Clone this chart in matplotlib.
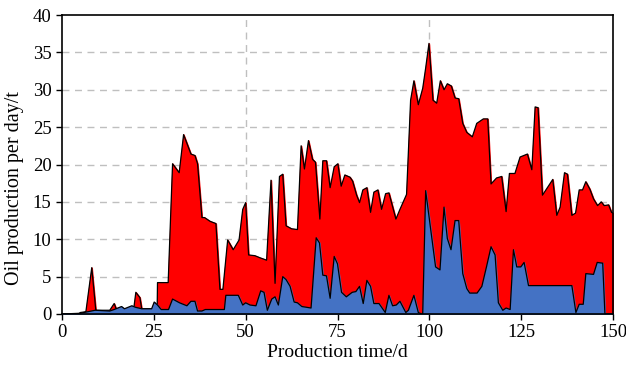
import numpy as np
import matplotlib.pyplot as plt

plt.rcParams['font.family'] = ['Liberation Serif', 'DejaVu Serif']

# Total daily oil production (red), vertices
days_total = [0, 4.5, 5, 6.5, 8.1, 9.2, 13, 14.2, 14.9, 19.5, 20.1, 21.2, 21.7, 25.9,
              26, 28.9, 30.1, 31.9, 33.1, 35.1, 36.2, 36.9, 38.1, 38.8, 40.3, 41.9,
              43.0, 43.8, 45.1, 46.6, 48.2, 49.2, 50.0, 50.8, 52.5, 54.0, 55.7, 56.9,
              58.0, 59.2, 60.1, 61.0, 62.5, 64.1, 65.1, 66.0, 67.1, 68.2, 69.0, 70.2,
              71.0, 72.0, 73.0, 74.1, 75.1, 76.0, 77.0, 78.4, 79.1, 80.2, 81.0, 81.9,
              83.0, 84.0, 84.9, 86.0, 87.0, 88.1, 89.0, 90.9, 92.0, 93.8, 94.9, 95.8,
              97.0, 98.2, 99.0, 99.9, 101.0, 102.0, 103.0, 104.0, 104.9, 106.0, 107.0,
              108.0, 109.1, 110.2, 111.7, 112.9, 114.7, 115.9, 116.8, 118.3, 119.7,
              120.9, 121.8, 123.3, 124.7, 126.7, 127.9, 128.8, 129.6, 130.8, 132.0,
              133.6, 134.7, 135.6, 136.8, 137.6, 138.8, 139.8, 140.8, 141.7, 142.6,
              143.7, 144.7, 145.8, 146.8, 147.6, 148.8, 149.6, 150]
oil_total = [0, 0, 0.2, 0.3, 6.2, 0.5, 0.5, 1.4, 0.5, 0.6, 2.9, 2.2, 0.7, 0.7,
             4.2, 4.2, 20.1, 18.9, 24.0, 21.4, 21.2, 20.1, 12.9, 12.9, 12.4, 12.1,
             3.3, 3.3, 9.9, 8.6, 9.9, 14.0, 14.9, 7.9, 7.8, 7.5, 7.2, 17.9,
             4.1, 18.4, 18.7, 11.8, 11.4, 11.3, 22.5, 19.4, 23.2, 20.7, 20.3, 12.7,
             20.5, 20.5, 16.9, 19.7, 20.1, 17.1, 18.6, 18.3, 17.8, 15.9, 14.9, 16.6,
             16.9, 13.6, 16.3, 16.6, 14.0, 16.1, 16.2, 12.7, 14.0, 16.0, 28.6, 31.2,
             28.0, 30.2, 32.9, 36.2, 28.6, 28.2, 31.2, 30.0, 30.8, 30.5, 28.9,
             28.8, 25.5, 24.3, 23.7, 25.5, 26.1, 26.1, 17.4, 18.2, 18.4,
             13.7, 18.8, 18.8, 21.0, 21.4, 19.3, 27.7, 27.6, 15.9, 16.8,
             18.0, 13.2, 14.3, 18.9, 18.7, 13.2, 13.5, 16.6, 16.6, 17.7,
             16.7, 15.4, 14.5, 15.0, 14.5, 14.6, 13.6, 13.5]

# Second series (blue), vertices
days_blue = [0, 5, 8, 9, 13, 14.2, 16.2, 17, 19, 20, 21.7, 24.4, 25.1, 26, 27, 29,
             30.1, 32, 34, 35.1, 36.2, 36.9, 38.1, 39, 44.2, 44.6, 48, 49.2, 50, 51.2,
             52.8, 54.1, 55, 55.9, 57.1, 58, 58.9, 60.1, 61, 62.1, 63.2, 64.1, 65.3,
             67.8, 69.2, 70.1, 71, 72, 73, 74.1, 75, 76.1, 77.4, 79, 80, 81, 82, 83,
             84, 84.9, 86.3, 88, 89, 90, 91, 92, 93.6, 94.3, 95.8, 97, 97.9, 98.2,
             99.0, 101.7, 102.9, 104, 104.9, 105.9, 107, 108, 109.1, 110.2, 111, 113,
             114.3, 115.6, 116.8, 117.9, 118.8, 120, 120.9, 122, 122.9, 123.8, 124.9,
             125.8, 127, 138.8, 139.9, 140.8, 141.9, 142.6, 144.7, 145.7, 147.2,
             147.8, 150]
oil_blue = [0, 0.1, 0.4, 0.5, 0.4, 0.6, 1.0, 0.7, 1.1, 0.9, 0.7, 0.7, 1.6, 1.2, 0.6, 0.6,
            2.0, 1.5, 1.1, 1.7, 1.7, 0.4, 0.4, 0.6, 0.6, 2.5, 2.5, 1.2, 1.5, 1.2,
            1.1, 3.1, 2.9, 0.5, 2.0, 2.3, 1.2, 5.0, 4.6, 3.7, 1.6, 1.5, 1.0,
            0.8, 10.2, 9.5, 5.2, 5.1, 2.1, 7.7, 6.7, 2.9, 2.3, 2.9, 3.0, 3.7, 1.4, 4.5,
            3.7, 1.4, 1.4, 0.2, 2.5, 1.1, 1.2, 1.7, 0.2, 0.5, 2.5, 0.2, 0, 0,
            16.5, 6.3, 5.9, 14.3, 10.1, 8.6, 12.5, 12.5, 5.4, 3.4, 2.8, 2.8,
            3.7, 6.4, 9.0, 7.9, 1.5, 0.5, 0.8, 0.6, 8.6, 6.3, 6.3,
            6.9, 3.8, 3.8, 0.2, 1.3, 1.3, 5.4, 5.3, 6.9, 6.8,
            0, 0]

fig = plt.figure(figsize=(6.26, 3.72), dpi=100)
ax = fig.add_axes([62 / 626, 58 / 372, 551 / 626, 299 / 372])

ax.fill_between(days_total, 0, oil_total, color='#ff0000', zorder=2)
ax.plot(days_total, oil_total, color='black', linewidth=0.9, zorder=3)
ax.fill_between(days_blue, 0, oil_blue, color='#4472c4', zorder=4)
ax.plot(days_blue, oil_blue, color='black', linewidth=0.9, zorder=5)

ax.set_xlim(0, 150)
ax.set_ylim(0, 40)
ax.set_xticks(np.arange(0, 151, 25))
ax.set_yticks(np.arange(0, 41, 5))

# dashed grid: horizontal at every tick, vertical only at 50 and 100
for yv in range(5, 40, 5):
    ax.axhline(yv, color='#bfbfbf', linestyle=(0, (5, 4)), linewidth=1, zorder=1)
for xv in [50, 100]:
    ax.axvline(xv, color='#bfbfbf', linestyle=(0, (5, 4)), linewidth=1, zorder=1)

ax.tick_params(axis='both', direction='out', length=4, width=1, labelsize=13.5, colors='black')
for s in ax.spines.values():
    s.set_linewidth(1.2)
    s.set_zorder(6)

ax.set_xlabel('Production time/d', fontsize=14, labelpad=2)
ax.set_ylabel('Oil production per day/t', fontsize=14.5)
ax.yaxis.set_label_coords(-0.069, 0.42)

fig.savefig('out.png', dpi=100)
